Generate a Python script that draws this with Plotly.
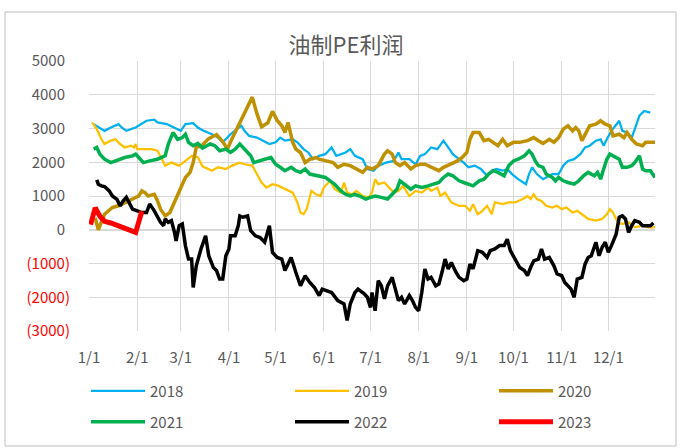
import pandas as pd
import plotly.graph_objects as go

# ---- data: day-of-year offsets (from Jan 1) and values ----
days_2018 = [3,7,10,14,17,19,21,24,30,37,42,44,50,59,62,67,70,73,79,83,86,91,95,98,100,103,108,112,116,120,123,126,131,134,138,141,144,148,152,156,159,165,168,171,176,179,183,186,191,196,199,201,206,210,213,216,220,224,228,231,234,238,241,244,248,252,256,259,262,266,269,272,276,281,283,285,288,292,298,302,305,308,312,316,319,322,326,329,331,333,336,341,343,346,349,351,354,357,361]
vals_2018 = [3130,3030,2930,3030,3080,3130,3030,2930,3030,3230,3260,3180,3130,2930,3130,3160,3030,2950,2830,2730,2590,2830,2980,3080,2930,2780,2730,2640,2540,2590,2730,2640,2680,2590,2390,2290,2090,2190,2240,2440,2190,2290,2390,2190,2090,1800,1750,1900,1990,2040,2290,2090,2090,1940,2190,2240,2440,2390,2640,2440,2240,2090,1990,1850,1900,1800,1600,1750,1800,1750,1800,1650,1500,1350,1650,1850,1650,1500,1650,1650,1900,2040,2090,2240,2440,2490,2640,2680,2490,2680,2930,3230,2930,2880,2730,2980,3380,3520,3470]

days_2019 = [2,5,8,10,14,17,20,23,27,29,30,31,40,44,47,49,53,58,62,66,70,73,79,83,88,92,97,100,105,108,111,114,118,122,126,131,134,136,138,140,143,146,149,151,155,158,162,164,166,169,172,176,180,182,184,186,190,193,196,199,202,206,210,214,218,220,224,226,229,233,238,242,245,247,250,253,256,259,261,266,270,274,279,282,284,286,288,291,294,298,301,304,307,311,314,317,321,326,330,333,335,337,340,343,347,351,356,360,364]
vals_2019 = [3180,2980,2680,2540,2640,2680,2540,2440,2490,2440,2540,2390,2390,2340,2090,1900,1990,1900,2040,2190,2150,1880,1750,1850,1800,1900,1990,1940,1900,1650,1400,1250,1350,1300,1200,1100,810,510,460,610,1150,1050,1000,1250,1450,1200,1100,1400,1100,1050,1150,1000,960,1100,1500,1350,1400,1250,1100,1150,1300,1000,1150,1100,1250,1150,1250,1000,1100,810,710,710,560,760,460,560,710,460,810,760,810,810,910,1000,910,1050,910,850,710,660,710,610,660,510,560,460,320,270,320,460,610,510,220,170,220,70,120,70,70]

days_2020 = [4,6,10,15,19,23,28,32,34,36,38,42,44,46,49,52,54,57,60,62,65,67,69,72,77,82,86,89,92,97,101,105,108,111,115,118,121,124,126,128,131,133,136,139,142,146,148,153,157,160,164,168,172,176,179,182,186,190,192,195,197,200,203,207,210,213,216,220,225,228,232,237,240,243,245,247,251,254,257,260,263,266,269,273,277,282,286,289,292,296,299,302,305,308,311,313,315,317,319,322,326,329,332,335,337,341,344,346,349,352,356,358,361,364]
vals_2020 = [350,0,460,660,710,810,910,1000,1150,1100,1000,1050,860,610,410,510,710,1000,1300,1550,1700,1990,2450,2470,2700,2820,2610,2390,2700,3160,3550,3930,3440,3050,3170,3510,3240,3080,2880,3180,2590,2390,2290,1990,2090,2140,2090,2040,1990,1850,1940,1900,1800,1700,1850,1800,1900,2240,2340,2240,1990,1900,1990,1800,1900,1940,1940,1850,1750,1850,1940,2040,2140,2290,2680,2880,2880,2640,2680,2590,2490,2680,2490,2590,2590,2640,2730,2640,2560,2680,2590,2730,2980,3080,2930,3030,2930,2640,2830,3080,3130,3230,3130,3080,2780,2830,2730,2880,2680,2540,2490,2590,2590,2590]

days_2021 = [3,5,7,10,14,17,20,23,28,30,32,35,39,44,49,51,54,57,60,62,64,67,70,73,78,81,84,88,91,94,97,100,104,106,109,113,117,120,123,126,130,133,136,139,142,146,148,152,155,158,162,165,168,171,174,178,181,184,188,192,195,198,200,203,207,210,214,218,221,225,228,231,234,238,241,244,247,251,254,257,260,263,267,270,273,276,280,283,285,287,289,292,294,298,300,302,305,308,312,315,318,321,325,327,329,331,333,335,337,341,343,346,349,351,354,356,358,361,364]
vals_2021 = [2390,2440,2240,2090,1990,2040,2090,2140,2190,2240,2140,1990,2040,2090,2190,2540,2880,2680,2730,2830,2590,2490,2560,2420,2540,2490,2340,2390,2290,2390,2540,2390,2190,1990,2040,2090,2140,1940,1850,1750,1850,1750,1700,1800,1650,1600,1600,1550,1450,1350,1150,1050,1000,1050,1000,910,960,1000,960,910,1050,1200,1450,1350,1200,1300,1250,1300,1350,1400,1550,1650,1600,1450,1400,1350,1300,1450,1500,1650,1750,1700,1600,1900,2040,2090,2190,2340,2240,2040,1900,1850,1650,1550,1450,1550,1450,1400,1350,1450,1600,1700,1600,1700,1500,1800,2090,2240,2190,2090,1850,1850,1900,1990,2190,1800,1750,1750,1550]

days_2022 = [5,6,8,10,13,15,18,20,22,24,28,31,34,37,39,42,44,46,48,49,51,53,55,56,58,60,62,64,66,67,69,70,72,75,77,80,82,84,86,88,90,91,94,96,97,99,102,104,107,110,113,116,118,121,124,126,130,133,136,139,142,145,148,150,153,156,160,164,166,168,171,173,177,179,181,182,184,186,188,190,192,195,197,199,201,203,206,208,210,212,214,216,218,220,223,225,227,229,231,233,236,238,241,243,245,247,250,253,256,258,261,264,267,269,271,274,277,280,282,284,286,289,291,293,296,299,301,304,306,310,312,314,317,319,321,323,326,328,330,332,334,336,339,341,343,345,347,349,351,354,356,358,361,363]
vals_2022 = [1480,1350,1300,1280,1150,1000,900,710,860,960,610,560,510,510,760,560,410,220,120,320,220,270,-80,-330,120,170,-470,-870,-870,-1710,-1070,-870,-570,-180,-770,-1120,-1210,-1460,-1460,-770,-570,-180,-180,120,410,370,410,-30,-180,-230,-370,120,-670,-820,-870,-1210,-820,-1260,-1660,-1360,-1560,-1710,-1950,-1760,-1810,-1860,-2100,-2200,-2690,-2200,-1860,-1760,-1900,-2000,-2300,-1860,-2400,-1510,-1660,-2050,-1660,-1410,-1760,-2100,-2000,-2200,-1950,-2100,-2300,-2400,-1860,-1160,-1460,-1410,-1660,-1610,-1260,-870,-1160,-970,-1260,-1410,-1510,-1460,-1020,-1160,-620,-670,-820,-620,-570,-470,-470,-280,-620,-870,-1120,-1210,-1360,-1120,-920,-870,-570,-870,-820,-1070,-1310,-1360,-1560,-1760,-2000,-1460,-1410,-1020,-820,-770,-370,-770,-520,-370,-670,-470,-130,370,410,320,-80,120,270,220,120,120,120,200]

days_2023 = [1,4,7,10,14,20,30,34]
vals_2023 = [150,650,400,250,200,100,-80,550]

series_names = ["2018", "2019", "2020", "2021", "2022", "2023"]
series_days = [days_2018, days_2019, days_2020, days_2021, days_2022, days_2023]
series_vals = [vals_2018, vals_2019, vals_2020, vals_2021, vals_2022, vals_2023]

y_tickvals = [5000, 4000, 3000, 2000, 1000, 0, -1000, -2000, -3000]
y_ticktext = ["5000", "4000", "3000", "2000", "1000", "0", "(1000)", "(2000)", "(3000)"]

title_text = "油制PE利润"

# ---- styling ----
colors = ["#00B0F0", "#FFC000", "#BF9000", "#00B050", "#000000", "#FF0000"]
widths = [2.25, 2.25, 3.5, 3.5, 3.5, 5]
legend_ids = ["legend", "legend", "legend", "legend2", "legend2", "legend2"]
base = pd.Timestamp("2021-01-01")

W, H = 681, 448
L, R, T, B = 89, 655, 61, 331
FONT = "Noto Sans CJK SC, Noto Sans, sans-serif"
GREY = "#595959"

def px_x(px):
    return (px - L) / (R - L)

def px_y(py):
    return (B - py) / (B - T)

fig = go.Figure()
for name, d, v, c, w, lg in zip(series_names, series_days, series_vals, colors, widths, legend_ids):
    x = base + pd.to_timedelta(d, unit="D")
    fig.add_trace(go.Scatter(x=x, y=v, mode="lines", name=name,
                             line=dict(color=c, width=w), legend=lg))

def fmt_tick(t, label):
    if t < 0:
        return f"<span style='color:#FF0000'>{label}</span>"
    return label + "\u2004"

legend_common = dict(orientation="h", xanchor="left", yanchor="middle",
                     entrywidth=135, entrywidthmode="pixels", itemwidth=54,
                     font=dict(size=15, color=GREY), bgcolor="rgba(0,0,0,0)",
                     borderwidth=0, traceorder="normal")

fig.update_layout(
    width=W, height=H,
    margin=dict(l=L, r=W - R, t=T, b=H - B, autoexpand=False),
    paper_bgcolor="white", plot_bgcolor="white",
    font=dict(family=FONT, size=15, color=GREY),
    title=dict(text=title_text, x=346 / W, xanchor="center", y=1 - 45 / H, yanchor="middle",
               font=dict(size=22, color=GREY, family=FONT)),
    xaxis=dict(type="date", range=["2021-01-01", "2021-12-31"], dtick="M1", tick0="2021-01-01",
               tickformat="%-m/%-d", showgrid=True, gridcolor="#D9D9D9", gridwidth=1,
               ticks="", showline=False, zeroline=False, ticklabelstandoff=16,
               tickfont=dict(size=15, color=GREY)),
    yaxis=dict(range=[-3000, 5000], tickvals=y_tickvals,
               ticktext=[fmt_tick(t, s) for t, s in zip(y_tickvals, y_ticktext)],
               showgrid=True, gridcolor="#D9D9D9", gridwidth=1, zeroline=True,
               zerolinecolor="#D9D9D9", zerolinewidth=2, ticks="", showline=False,
               ticklabelstandoff=18, tickfont=dict(size=15, color=GREY)),
    legend=dict(x=px_x(86), y=px_y(391), **legend_common),
    legend2=dict(x=px_x(86), y=px_y(422), **legend_common),
    showlegend=True,
)

# chart-area border
fig.add_shape(type="rect", xref="paper", yref="paper",
              x0=px_x(5), x1=px_x(676), y0=px_y(446), y1=px_y(12),
              line=dict(color="#BFBFBF", width=1), fillcolor="rgba(0,0,0,0)", layer="below")

fig.write_html("out.html", config={"displayModeBar": False},
               post_script="document.body.style.margin='0px';")
